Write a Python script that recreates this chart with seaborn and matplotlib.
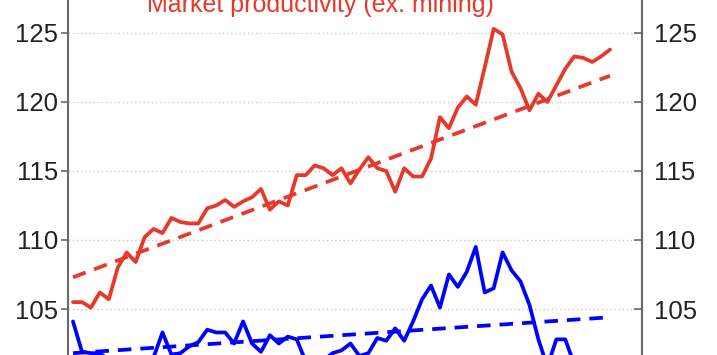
import matplotlib
matplotlib.use("Agg")
import matplotlib.pyplot as plt
import numpy as np
import pandas as pd
import seaborn as sns

# ---------------- data ----------------
quarter = list(range(61))
market_productivity = [
    105.5, 105.5, 105.1, 106.2, 105.7, 108.0, 109.1, 108.4, 110.2, 110.8,
    110.5, 111.6, 111.3, 111.2, 111.2, 112.3, 112.5, 112.9, 112.4, 112.8,
    113.1, 113.7, 112.2, 112.8, 112.5, 114.7, 114.7, 115.4, 115.2, 114.7,
    115.2, 114.1, 115.1, 116.0, 115.2, 115.0, 113.5, 115.2, 114.6, 114.6,
    115.9, 118.9, 118.1, 119.6, 120.4, 119.8, 122.5, 125.3, 124.9, 122.2,
    121.0, 119.4, 120.6, 120.0, 121.2, 122.4, 123.3, 123.2, 122.9, 123.3,
    123.8,
]
other_productivity = [
    104.1, 101.9, 101.8, 101.8, 101.3, 101.0, 101.2, 101.0, 101.3, 101.5,
    103.3, 101.7, 101.8, 102.3, 102.6, 103.5, 103.3, 103.3, 102.5, 104.1,
    102.5, 101.9, 103.1, 102.5, 103.0, 102.8, 101.2, 101.0, 101.3, 101.8,
    102.0, 102.5, 101.6, 101.8, 102.9, 102.7, 103.6, 102.7, 104.1, 105.7,
    106.7, 105.1, 107.5, 106.6, 107.7, 109.5, 106.2, 106.5, 109.1, 107.8,
    107.0, 105.3, 102.8, 100.8, 102.8, 102.8, 101.0, 100.5, 100.3, 100.6,
    100.8,
]
trend_quarter = [0, 60]
market_trend = [107.3, 121.9]
other_trend = [101.8, 104.4]
y_ticks = [105, 110, 115, 120, 125]
title_text = "Market productivity (ex. mining)"

RED = "#E8382A"
BLUE = "#0000FF"

sns.set_theme(style="white")
plt.rcParams["font.family"] = ["Liberation Sans", "DejaVu Sans"]

W, H = 717, 355
fig = plt.figure(figsize=(W / 100, H / 100), dpi=100)
ax = fig.add_axes([68 / W, 0, 574 / W, 1])

df = pd.DataFrame({"q": quarter, "market": market_productivity, "other": other_productivity})
tdf = pd.DataFrame({"q": trend_quarter, "market": market_trend, "other": other_trend})

lw = 2.7
sns.lineplot(data=tdf, x="q", y="market", ax=ax, color=RED, lw=lw,
             linestyle=(0, (3.6, 2.4)))
sns.lineplot(data=tdf, x="q", y="other", ax=ax, color=BLUE, lw=lw,
             linestyle=(0, (3.6, 2.4)))
sns.lineplot(data=df, x="q", y="market", ax=ax, color=RED, lw=lw)
sns.lineplot(data=df, x="q", y="other", ax=ax, color=BLUE, lw=lw)

px_per_q = 8.95
ax.set_xlim(-5 / px_per_q, 60 + 32 / px_per_q)
ylo, yhi = 101.667, 127.39
ax.set_ylim(ylo, yhi)

ax.set_xlabel("")
ax.set_ylabel("")
ax.set_xticks([])
ax.set_yticks(y_ticks)
ax.yaxis.grid(True, linestyle=(0, (1, 2)), color="#c8c8c8", lw=1.0)
ax.set_axisbelow(True)

for s in ["top", "bottom"]:
    ax.spines[s].set_visible(False)
for s in ["left", "right"]:
    ax.spines[s].set_color("#6a6a6a")
    ax.spines[s].set_linewidth(1.5)

ax.tick_params(axis="y", which="both", left=True, right=False, direction="out",
               length=5, width=1.2, color="#6a6a6a", labelsize=18.5,
               labelcolor="#222222", pad=2)

ax2 = ax.twinx()
ax2.set_ylim(ylo, yhi)
ax2.set_yticks(y_ticks)
for s in ["top", "bottom", "left"]:
    ax2.spines[s].set_visible(False)
ax2.spines["right"].set_color("#6a6a6a")
ax2.spines["right"].set_linewidth(1.5)
ax2.tick_params(axis="y", which="both", left=False, right=True, direction="in",
                length=6, width=1.2, color="#6a6a6a", labelsize=18.5,
                labelcolor="#222222", pad=9)
ax2.grid(False)

ax.text(27.6, 126.52, title_text, color=RED, fontsize=18, ha="center",
        va="baseline")

fig.savefig("out.png", dpi=100)
